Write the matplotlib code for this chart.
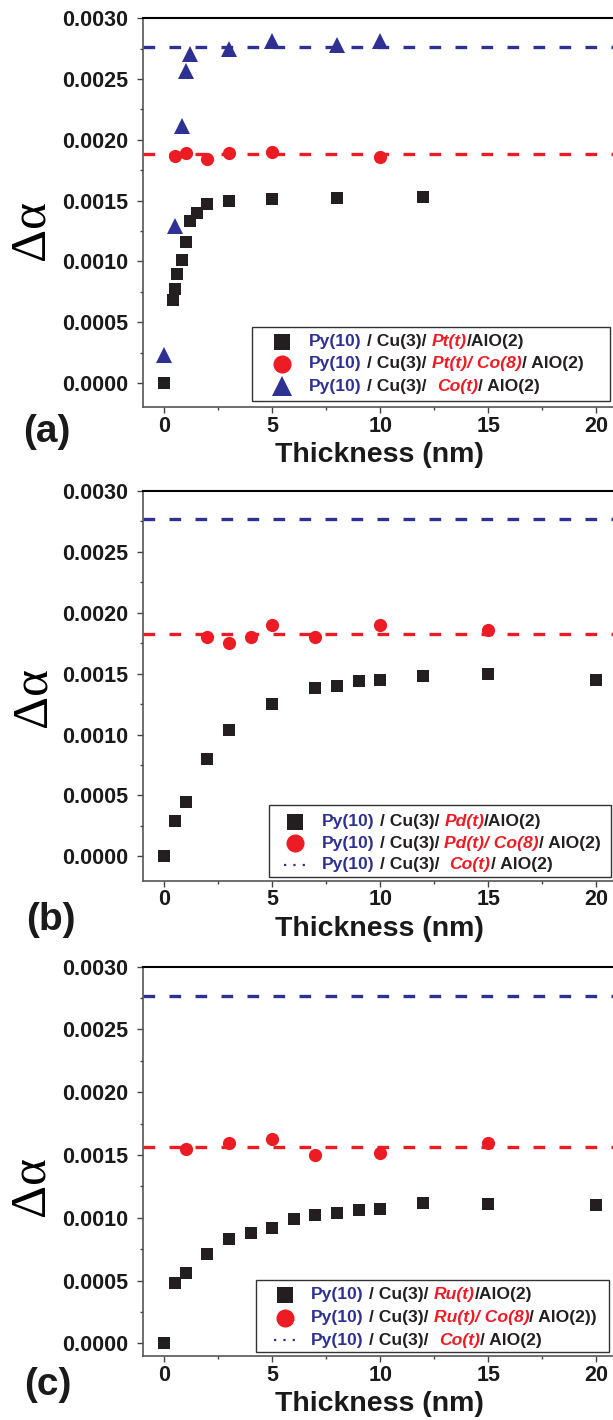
"""
Gilbert damping enhancement vs. spacer thickness - three stacked panels
"""
import matplotlib
matplotlib.use('Agg')
import matplotlib.pyplot as plt
from matplotlib.ticker import MultipleLocator, FormatStrFormatter
from matplotlib.offsetbox import TextArea, HPacker, DrawingArea, AnchoredOffsetbox
from matplotlib.patches import Rectangle
from matplotlib.lines import Line2D

plt.rcParams['font.family'] = ['Liberation Sans', 'DejaVu Sans']
plt.rcParams['font.weight'] = 'bold'

W, H = 613, 1420
BLUE = '#2e3192'
RED = '#ed1c24'
BLACK = '#231f20'

# (a) Pt series
pt_x = [0, 0.4, 0.5, 0.6, 0.8, 1.0, 1.2, 1.5, 2, 3, 5, 8, 12]
pt_y = [0.0, 0.00068, 0.00077, 0.00090, 0.00101, 0.00116, 0.00133, 0.00140,
        0.00147, 0.00150, 0.00151, 0.00152, 0.00153]
ptco_x = [0.5, 1, 2, 3, 5, 10]
ptco_y = [0.00187, 0.00189, 0.00184, 0.00189, 0.00190, 0.00186]
co_x = [0, 0.5, 0.8, 1.0, 1.2, 3, 5, 8, 10]
co_y = [0.00023, 0.00129, 0.00211, 0.00257, 0.00271, 0.00275, 0.00281, 0.00278, 0.00281]

# (b) Pd series
pd_x = [0, 0.5, 1, 2, 3, 5, 7, 8, 9, 10, 12, 15, 20]
pd_y = [0.0, 0.00029, 0.00045, 0.00080, 0.00104, 0.00125, 0.00138, 0.00140,
        0.00144, 0.00145, 0.00148, 0.00150, 0.00145]
pdco_x = [2, 3, 4, 5, 7, 10, 15]
pdco_y = [0.00180, 0.00175, 0.00180, 0.00190, 0.00180, 0.00190, 0.00186]

# (c) Ru series
ru_x = [0, 0.5, 1, 2, 3, 4, 5, 6, 7, 8, 9, 10, 12, 15, 20]
ru_y = [0.0, 0.00048, 0.00056, 0.00071, 0.00083, 0.00088, 0.00092, 0.00099,
        0.00102, 0.00104, 0.00106, 0.00107, 0.00112, 0.00111, 0.00110]
ruco_x = [1, 3, 5, 7, 10, 15]
ruco_y = [0.00155, 0.00160, 0.00163, 0.00150, 0.00152, 0.00160]

# average levels (dashed lines)
red_avg = [0.001886, 0.001824, 0.001568]
blue_avg = [0.00276, 0.00277, 0.00277]

panel_tags = ['(a)', '(b)', '(c)']
metals = ['Pt', 'Pd', 'Ru']
ylims = [(-0.0002, 0.0030), (-0.0002, 0.0030), (-0.0001, 0.0030)]

# layout in pixels
ax_top = [18.3, 491, 966.7]
ax_bot = [407.3, 880.7, 1356]
AX_L, AX_R = 142.7, 626.5
leg_box = [(251.7, 327, 610, 400.7), (268.5, 805, 611, 876.7), (256, 1280, 608.7, 1352.3)]
leg_mark_x = [282.3, 295, 285]
leg_text_x = [309.3, 321.7, 311]
leg_rows = [(341.7, 363.5, 386), (821.7, 843.3, 865), (1295, 1317.7, 1340)]
ylab_c = [(31, 230), (33, 697), (31, 1186)]
tag_c = [(47, 432), (51, 920), (48, 1385)]

LEG_FS = 12.6


def fx(x):
    return x / W


def fy(y):
    return 1 - y / H


fig = plt.figure(figsize=(W / 100, H / 100), dpi=100)

SP = 0.30 * LEG_FS  # width of a space in the legend


def legend_row(pieces, x, y):
    kids = []
    for s, col, ital in pieces:
        lead = len(s) - len(s.lstrip(' '))
        trail = len(s) - len(s.rstrip(' '))
        if lead:
            kids.append(DrawingArea(lead * SP, 1))
        kids.append(TextArea(s.strip(), textprops=dict(color=col, fontsize=LEG_FS, fontweight='bold',
                                                       fontstyle='italic' if ital else 'normal')))
        if trail:
            kids.append(DrawingArea(trail * SP, 1))
    hp = HPacker(children=kids, sep=0, pad=0, align='baseline')
    box = AnchoredOffsetbox(loc='center left', child=hp, pad=0, borderpad=0, frameon=False,
                            bbox_to_anchor=(fx(x), fy(y)), bbox_transform=fig.transFigure)
    box.set_zorder(11)
    fig.add_artist(box)


for i in range(3):
    ax = fig.add_axes([fx(AX_L), fy(ax_bot[i]), (AX_R - AX_L) / W, (ax_bot[i] - ax_top[i]) / H])
    m = metals[i]

    ax.axhline(blue_avg[i], color=BLUE, lw=2.4, dashes=(3.5, 4.3), zorder=1)
    ax.axhline(red_avg[i], color=RED, lw=2.4, dashes=(3.5, 4.3), zorder=1)

    if i == 0:
        ax.plot(pt_x, pt_y, 's', color=BLACK, ms=8.6, mew=0, zorder=3)
        ax.plot(ptco_x, ptco_y, 'o', color=RED, ms=9.5, mew=0, zorder=3)
        ax.plot(co_x, co_y, '^', color=BLUE, ms=11.5, mew=0, zorder=3)
    elif i == 1:
        ax.plot(pd_x, pd_y, 's', color=BLACK, ms=8.6, mew=0, zorder=3)
        ax.plot(pdco_x, pdco_y, 'o', color=RED, ms=9.5, mew=0, zorder=3)
    else:
        ax.plot(ru_x, ru_y, 's', color=BLACK, ms=8.6, mew=0, zorder=3)
        ax.plot(ruco_x, ruco_y, 'o', color=RED, ms=9.5, mew=0, zorder=3)

    ax.set_xlim(-1, 21.4)
    ax.set_ylim(*ylims[i])
    ax.xaxis.set_major_locator(MultipleLocator(5))
    ax.xaxis.set_minor_locator(MultipleLocator(2.5))
    ax.yaxis.set_major_locator(MultipleLocator(0.0005))
    ax.yaxis.set_minor_locator(MultipleLocator(0.00025))
    ax.yaxis.set_major_formatter(FormatStrFormatter('%.4f'))
    ax.tick_params(which='both', direction='out', top=False, right=False, width=1, color='#444444')
    ax.tick_params(which='major', length=4.3)
    ax.tick_params(which='minor', length=2.5)
    ax.tick_params(axis='x', pad=2, labelsize=15.5)
    ax.tick_params(axis='y', pad=6, labelsize=15.5)
    for lab in ax.get_xticklabels() + ax.get_yticklabels():
        lab.set_fontweight('bold')
        lab.set_color('#1a1a1a')
    for side in ['left', 'bottom']:
        ax.spines[side].set_color('#555555')
        ax.spines[side].set_linewidth(1.2)
    ax.spines['top'].set_color('black')
    ax.spines['top'].set_linewidth(1.5)

    # axis labels
    fig.text(fx(ylab_c[i][0]), fy(ylab_c[i][1]), '\u0394\u03b1', rotation=90, ha='center', va='center',
             fontsize=37, fontweight='normal', family=['Liberation Serif', 'DejaVu Serif'])
    fig.text(fx(379.5), fy(ax_bot[i] + 55), 'Thickness (nm)', ha='center', va='baseline',
             fontsize=20.5, fontweight='bold', color='#1a1a1a')
    fig.text(fx(tag_c[i][0]), fy(tag_c[i][1]), panel_tags[i], ha='center', va='center',
             fontsize=28, fontweight='bold', color='#1a1a1a')

    # legend frame
    x0, y0, x1, y1 = leg_box[i]
    fig.add_artist(Rectangle((fx(x0), fy(y1)), (x1 - x0) / W, (y1 - y0) / H, transform=fig.transFigure,
                             facecolor='white', edgecolor='#333333', lw=1.0, zorder=10))

    # legend handles
    mx = fx(leg_mark_x[i])
    r0, r1, r2 = leg_rows[i]
    fig.add_artist(Line2D([mx], [fy(r0)], marker='s', color=BLACK, ms=11, mew=0,
                          ls='none', transform=fig.transFigure, zorder=12))
    fig.add_artist(Line2D([mx], [fy(r1)], marker='o', color=RED, ms=13, mew=0,
                          ls='none', transform=fig.transFigure, zorder=12))
    if i == 0:
        fig.add_artist(Line2D([mx], [fy(r2)], marker='^', color=BLUE, ms=14, mew=0,
                              ls='none', transform=fig.transFigure, zorder=12))
    else:
        fig.add_artist(Line2D([fx(leg_mark_x[i] - 11), fx(leg_mark_x[i] + 11)], [fy(r2), fy(r2)],
                              color=BLUE, lw=1.6, dashes=(1, 3.2), transform=fig.transFigure, zorder=12))

    tail2 = '/ AlO(2))' if i == 2 else '/ AlO(2)'
    rows = [
        [('Py(10)', BLUE, False), (' / Cu(3)/ ', BLACK, False), (m + '(t)', RED, True), ('/AlO(2)', BLACK, False)],
        [('Py(10)', BLUE, False), (' / Cu(3)/ ', BLACK, False), (m + '(t)/ Co(8)', RED, True), (tail2, BLACK, False)],
        [('Py(10)', BLUE, False), (' / Cu(3)/  ', BLACK, False), ('Co(t)', RED, True), ('/ AlO(2)', BLACK, False)],
    ]
    tx = leg_text_x[i]
    for r, yy in zip(rows, leg_rows[i]):
        legend_row(r, tx, yy)

fig.savefig('out.png', dpi=100)
